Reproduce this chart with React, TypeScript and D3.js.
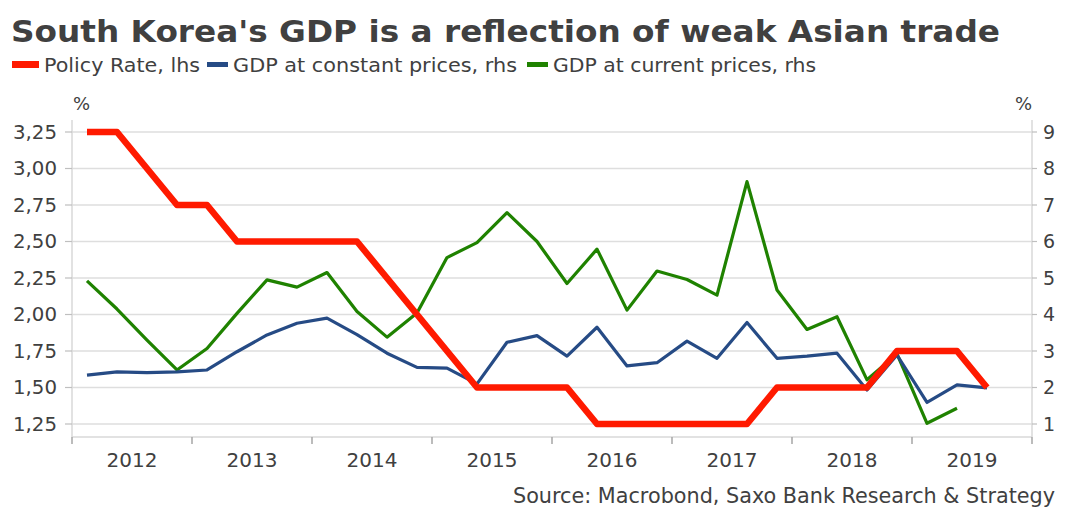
import React from "react";
import * as d3 from "d3";

const quarters: string[] = [
  "2012Q1","2012Q2","2012Q3","2012Q4","2013Q1","2013Q2","2013Q3","2013Q4",
  "2014Q1","2014Q2","2014Q3","2014Q4","2015Q1","2015Q2","2015Q3","2015Q4",
  "2016Q1","2016Q2","2016Q3","2016Q4","2017Q1","2017Q2","2017Q3","2017Q4",
  "2018Q1","2018Q2","2018Q3","2018Q4","2019Q1","2019Q2","2019Q3",
];

const policyRate: number[] = [
  3.25, 3.25, 3.0, 2.75, 2.75, 2.5, 2.5, 2.5,
  2.5, 2.5, 2.25, 2.0, 1.75, 1.5, 1.5, 1.5,
  1.5, 1.25, 1.25, 1.25, 1.25, 1.25, 1.25, 1.5,
  1.5, 1.5, 1.5, 1.75, 1.75, 1.75, 1.5,
];

const gdpConstant: number[] = [
  2.34, 2.43, 2.41, 2.43, 2.48, 2.98, 3.44, 3.76,
  3.9, 3.45, 2.94, 2.55, 2.53, 2.1, 3.24, 3.42,
  2.86, 3.65, 2.59, 2.68, 3.27, 2.8, 3.78, 2.8,
  2.86, 2.94, 1.93, 2.89, 1.59, 2.07, 1.99,
];

const gdpCurrent: number[] = [
  4.92, 4.15, 3.3, 2.48, 3.07, 4.03, 4.95, 4.75,
  5.15, 4.08, 3.38, 4.04, 5.56, 5.97, 6.79, 6.0,
  4.85, 5.79, 4.12, 5.19, 4.96, 4.53, 7.64, 4.67,
  3.59, 3.94, 2.21, 2.92, 1.02, 1.43,
];

const leftTicks: number[] = [1.25, 1.5, 1.75, 2.0, 2.25, 2.5, 2.75, 3.0, 3.25];
const rightTicks: number[] = [1, 2, 3, 4, 5, 6, 7, 8, 9];
const years: number[] = [2012, 2013, 2014, 2015, 2016, 2017, 2018, 2019];

const TXT = "#404040";
const RED = "#ff1a00";
const BLUE = "#264b85";
const GREEN = "#1f8200";
const FONT = "'DejaVu Sans', Verdana, sans-serif";

function qTime(q: string): number {
  const y = +q.slice(0, 4);
  const n = +q.slice(5);
  return y + (n - 0.5) / 4;
}

export default function App() {
  const W = 1068, H = 522;
  const x = d3.scaleLinear().domain([2012, 2020]).range([72, 1032]);
  const yL = d3.scaleLinear().domain([1.25, 3.25]).range([424, 132]);
  const yR = d3.scaleLinear().domain([1, 9]).range([424, 132]);
  const plotTop = 120, plotBottom = 437;

  const fmtL = (v: number) => d3.format(".2f")(v).replace(".", ",");

  const lineL = d3.line<number>().x((_, i) => x(qTime(quarters[i]))).y((d) => yL(d));
  const lineR = d3.line<number>().x((_, i) => x(qTime(quarters[i]))).y((d) => yR(d));

  return (
    <svg width={W} height={H} style={{ position: "absolute", left: 0, top: 0, background: "#fff" }} fontFamily={FONT}>
      <rect width={W} height={H} fill="#fff" />
      <text x={11} y={42} fontSize={31} fontWeight="bold" fill={TXT} textLength={989} lengthAdjust="spacingAndGlyphs">
        South Korea's GDP is a reflection of weak Asian trade
      </text>
      {/* legend */}
      <rect x={12} y={61} width={27} height={7} fill={RED} />
      <text x={44} y={72} fontSize={20} fill={TXT} textLength={156} lengthAdjust="spacingAndGlyphs">Policy Rate, lhs</text>
      <rect x={207} y={62} width={21} height={5} fill={BLUE} />
      <text x={233} y={72} fontSize={20} fill={TXT} textLength={284} lengthAdjust="spacingAndGlyphs">GDP at constant prices, rhs</text>
      <rect x={527} y={62} width={21} height={5} fill={GREEN} />
      <text x={553} y={72} fontSize={20} fill={TXT} textLength={263} lengthAdjust="spacingAndGlyphs">GDP at current prices, rhs</text>

      {/* gridlines */}
      {leftTicks.map((t) => (
        <line key={"g" + t} x1={72} x2={1032} y1={yL(t)} y2={yL(t)} stroke="#dedede" strokeWidth={1.5} />
      ))}
      {/* axes */}
      <line x1={72} x2={72} y1={plotTop} y2={plotBottom} stroke="#d9d9d9" strokeWidth={1.5} />
      <line x1={1032} x2={1032} y1={plotTop} y2={plotBottom} stroke="#d9d9d9" strokeWidth={1.5} />
      <line x1={72} x2={1032} y1={plotBottom} y2={plotBottom} stroke="#d9d9d9" strokeWidth={1.5} />
      {leftTicks.map((t) => (
        <g key={"l" + t}>
          <line x1={65} x2={72} y1={yL(t)} y2={yL(t)} stroke="#bfbfbf" strokeWidth={1.2} />
          <text x={57} y={yL(t)} dy="0.36em" textAnchor="end" fontSize={19} fill={TXT} textLength={44} lengthAdjust="spacingAndGlyphs">{fmtL(t)}</text>
        </g>
      ))}
      {rightTicks.map((t) => (
        <g key={"r" + t}>
          <line x1={1032} x2={1037} y1={yR(t)} y2={yR(t)} stroke="#bfbfbf" strokeWidth={1.2} />
          <text x={1043} y={yR(t)} dy="0.36em" textAnchor="start" fontSize={19} fill={TXT}>{t}</text>
        </g>
      ))}
      <text x={73} y={110} fontSize={18} fill={TXT}>%</text>
      <text x={1032} y={110} fontSize={18} fill={TXT} textAnchor="end">%</text>
      {[...years, 2020].map((yr) => (
        <line key={"t" + yr} x1={x(yr)} x2={x(yr)} y1={plotBottom} y2={plotBottom + 7} stroke="#a6a6a6" strokeWidth={1.5} />
      ))}
      {years.map((yr) => (
        <text key={"y" + yr} x={x(yr + 0.5)} y={467} textAnchor="middle" fontSize={20} fill={TXT}>{yr}</text>
      ))}

      {/* series */}
      <path d={lineR(gdpCurrent) || ""} fill="none" stroke={GREEN} strokeWidth={3.2} strokeLinejoin="round" />
      <path d={lineR(gdpConstant) || ""} fill="none" stroke={BLUE} strokeWidth={3.2} strokeLinejoin="round" />
      <path d={lineL(policyRate) || ""} fill="none" stroke={RED} strokeWidth={6.5} strokeLinejoin="round" />

      <text x={1055} y={503} textAnchor="end" fontSize={21} fill={TXT} textLength={542} lengthAdjust="spacingAndGlyphs">
        Source: Macrobond, Saxo Bank Research &amp; Strategy
      </text>
    </svg>
  );
}
